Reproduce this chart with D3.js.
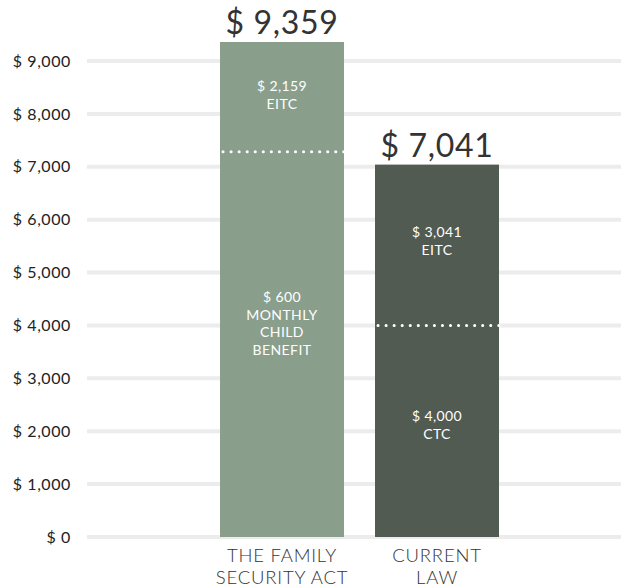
<!DOCTYPE html>
<html><head><meta charset="utf-8">
<script src="https://cdn.jsdelivr.net/npm/d3@7"></script>
<style>body{margin:0;background:#fff}svg{display:block}</style>
</head><body>
<svg id="c" width="621" height="587"></svg>
<script>
const categories = ["THE FAMILY SECURITY ACT", "CURRENT LAW"];
const categoryLines = [["THE FAMILY", "SECURITY ACT"], ["CURRENT", "LAW"]];
const lowerValues = [7200, 4000];
const upperValues = [2159, 3041];
const totals = [9359, 7041];
const lowerLabels = [["$ 600", "MONTHLY", "CHILD", "BENEFIT"], ["$ 4,000", "CTC"]];
const upperLabels = [["$ 2,159", "EITC"], ["$ 3,041", "EITC"]];
const barColors = ["#8a9e8c", "#525b52"];
const yTicks = [0, 1000, 2000, 3000, 4000, 5000, 6000, 7000, 8000, 9000];

const svg = d3.select("#c");
const y = d3.scaleLinear().domain([0, 9000]).range([537, 61]);
const x = d3.scaleBand().domain(categories).range([220, 499]).paddingInner(0.2).paddingOuter(0);

const fmt = v => "$ " + d3.format(",")(v);

// gridlines
svg.append("g").selectAll("line").data(yTicks).join("line")
  .attr("x1", 87).attr("x2", 621)
  .attr("y1", d => y(d)).attr("y2", d => y(d))
  .attr("stroke", "#ececec").attr("stroke-width", 4);

// y axis labels
const yAxis = d3.axisLeft(y).tickValues(yTicks).tickFormat(fmt).tickSize(0).tickPadding(0);
const ga = svg.append("g").attr("transform", "translate(71,0)").call(yAxis);
ga.select(".domain").remove();
ga.selectAll("text").attr("font-family", "Lato, sans-serif").attr("font-size", 16)
  .attr("letter-spacing", 0.6).attr("fill", "#222");

const bw = x.bandwidth();
categories.forEach((c, i) => {
  const x0 = x(c);
  const t = lowerValues[i] + upperValues[i];
  svg.append("rect").attr("x", x0).attr("width", bw)
    .attr("y", y(t)).attr("height", y(0) - y(t)).attr("fill", barColors[i]);
  // dotted separator
  const yd = y(lowerValues[i]) - (i === 0 ? 4.5 : 0);
  svg.append("line").attr("x1", x0 + 3).attr("x2", x0 + bw)
    .attr("y1", yd).attr("y2", yd)
    .attr("stroke", "#fff").attr("stroke-width", 3)
    .attr("stroke-linecap", "round").attr("stroke-dasharray", "0.1 7.95");
  // total
  svg.append("text").attr("x", x0 + bw / 2).attr("y", y(totals[i]) - 8)
    .attr("text-anchor", "middle").attr("font-family", "Lato, sans-serif")
    .attr("font-size", 32).attr("letter-spacing", 0.7)
    .attr("fill", "#333").text(fmt(totals[i]));
  // inner labels
  const drawLabel = (lines, cy) => {
    const lh = 17.5;
    const start = cy - (lines.length - 1) * lh / 2;
    lines.forEach((l, k) => {
      svg.append("text").attr("x", x0 + bw / 2).attr("y", start + k * lh)
        .attr("dy", "0.35em").attr("text-anchor", "middle")
        .attr("font-family", "Lato, sans-serif").attr("font-size", 14)
        .attr("letter-spacing", 0.4).attr("fill", "#fff").text(l);
    });
  };
  const upC = (y(lowerValues[i]) + y(t)) / 2 - 4;
  drawLabel(upperLabels[i], upC);
  const loC = i === 0 ? y(lowerValues[i] * 0.56) : (y(0) + y(lowerValues[i])) / 2 - 6;
  drawLabel(lowerLabels[i], loC);
  // category
  categoryLines[i].forEach((l, k) => {
    svg.append("text").attr("x", x0 + bw / 2).attr("y", 562 + k * 22)
      .attr("text-anchor", "middle").attr("font-family", "Lato, sans-serif")
      .attr("font-weight", 300).attr("font-size", 18.5).attr("letter-spacing", 0.8)
      .attr("fill", "#333").text(l);
  });
});
</script>
</body></html>
